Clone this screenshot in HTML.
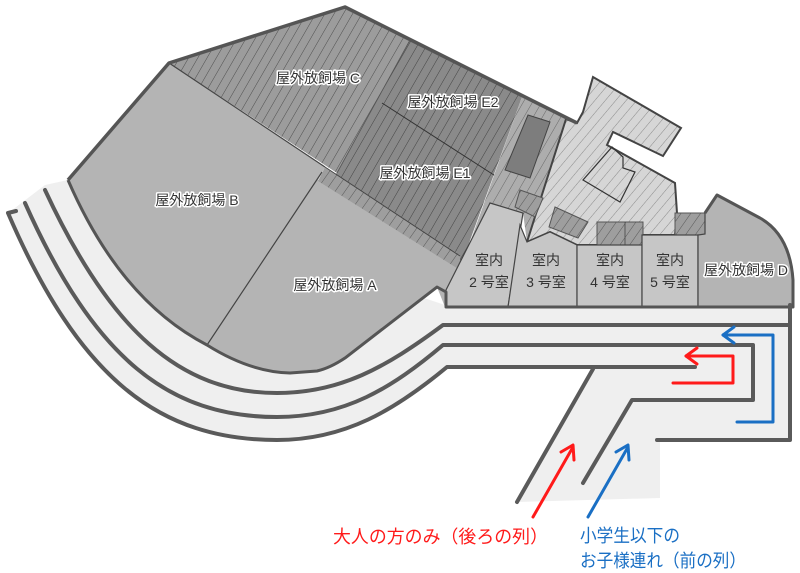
<!DOCTYPE html>
<html><head><meta charset="utf-8"><style>
html,body{margin:0;padding:0;background:#fff;}
svg{display:block;}
.lbl{font-family:"Liberation Sans","Noto Sans CJK JP",sans-serif;font-size:14px;fill:#333;stroke:#fff;stroke-width:3px;paint-order:stroke;stroke-linejoin:round;text-anchor:middle;}
.rm{font-family:"Liberation Sans","Noto Sans CJK JP",sans-serif;font-size:14px;fill:#333;text-anchor:middle;}
</style></head><body>
<svg width="800" height="573" viewBox="0 0 800 573" xmlns="http://www.w3.org/2000/svg">
<defs>
<pattern id="hC" width="8" height="8" patternUnits="userSpaceOnUse" patternTransform="rotate(30)">
<rect width="8" height="8" fill="#9c9c9c"/><line x1="0" y1="0" x2="0" y2="8" stroke="#444" stroke-width="0.9"/></pattern>
<pattern id="hE" width="8" height="8" patternUnits="userSpaceOnUse" patternTransform="rotate(30)">
<rect width="8" height="8" fill="#8a8a8a"/><line x1="0" y1="0" x2="0" y2="8" stroke="#3a3a3a" stroke-width="0.9"/></pattern>
<pattern id="hM" width="8" height="8" patternUnits="userSpaceOnUse" patternTransform="rotate(30)">
<rect width="8" height="8" fill="#adadad"/><line x1="0" y1="0" x2="0" y2="8" stroke="#555" stroke-width="0.8"/></pattern>
<pattern id="hL" width="8" height="8" patternUnits="userSpaceOnUse" patternTransform="rotate(40)">
<rect width="8" height="8" fill="#d6d6d6"/><line x1="0" y1="0" x2="0" y2="8" stroke="#777" stroke-width="0.8"/></pattern>
<pattern id="hB" width="8" height="8" patternUnits="userSpaceOnUse" patternTransform="rotate(35)">
<rect width="8" height="8" fill="#9e9e9e"/><line x1="0" y1="0" x2="0" y2="8" stroke="#444" stroke-width="0.8"/></pattern>
</defs>

<path d="M7,214 C80,380 160,440 277,440 C345,440 395,410 447,367 L593,367 L517,502 L660,498 L660,440 L790,440 L790,305 L445,305 L68,180 L45,185 Z" fill="#efefef"/>

<path d="M68,180 L169,63 L325,167 L318,180 L460,268 L445,292 L445,307 L437,287 L345,358 Q330,368 317,371 L290,373 Q250,372 207,345 Q120,300 68,180 Z" fill="#b4b4b4"/>
<line x1="322" y1="172" x2="207" y2="345" stroke="#444" stroke-width="1.2"/>

<polygon points="169,63 345,7 410,40 337,173" fill="url(#hC)"/>
<polygon points="410,40 522,97 460,268 318,180 337,173" fill="url(#hE)"/>
<polygon points="325,167 460,255 460,270 318,181" fill="url(#hB)"/>
<line x1="325" y1="167" x2="460" y2="256" stroke="#444" stroke-width="1"/>
<line x1="169" y1="63" x2="325" y2="167" stroke="#444" stroke-width="1.2"/>
<line x1="410" y1="40" x2="337" y2="173" stroke="#555" stroke-width="0.8"/>
<line x1="382" y1="103" x2="497" y2="177" stroke="#333" stroke-width="1"/>
<polygon points="522,97 566,119 527,242 523,213 490,203 462,265" fill="url(#hM)"/>
<polygon points="566,119 577,123 583,112 593,77 681,128 663,156 613,132 607,145 675,183 677,213 675,235 642,235 642,245 577,245 550,232 527,242" fill="url(#hL)" stroke="#444" stroke-width="2"/>
<polygon points="612,147 623,157 623,168 635,172 620,202 583,180" fill="none" stroke="#333" stroke-width="1.2"/>
<polygon points="528,115 550,122 530,178 505,170" fill="#7d7d7d" stroke="#444" stroke-width="1"/>
<polygon points="520,190 543,198 535,217 515,207" fill="url(#hB)" stroke="#555" stroke-width="1"/>
<polygon points="555,207 588,222 578,238 549,227" fill="url(#hB)" stroke="#555" stroke-width="1"/>
<rect x="597" y="222" width="46" height="23" fill="url(#hB)" stroke="#555" stroke-width="1"/>
<line x1="625" y1="222" x2="625" y2="245" stroke="#555"/>
<rect x="675" y="213" width="30" height="22" fill="url(#hB)" stroke="#555" stroke-width="1"/>

<g fill="#c6c6c6" stroke="#444" stroke-width="1.2">
<polygon points="490,203 523,213 508,307 446,307 446,290"/>
<polygon points="520,225 527,242 550,232 577,245 577,307 508,307"/>
<rect x="577" y="245" width="65" height="62"/>
<rect x="642" y="235" width="56" height="72"/>
</g>
<path d="M698,307 L698,235 L705,234 L705,213 L717,195 L760,218 Q790,235 793,280 L793,307 Z" fill="#b4b4b4" stroke="#444" stroke-width="1.2"/>

<path d="M68,180 L169,63 L345,7 L577,123" fill="none" stroke="#555" stroke-width="3.5" stroke-linejoin="round"/>
<path d="M705,213 L717,195 L760,218 Q790,235 793,280 L793,307 L446,307 L446,292 L437,287 L345,358 Q330,368 317,371 L290,373 Q250,372 207,345 Q120,300 68,180" fill="none" stroke="#555" stroke-width="3" stroke-linejoin="round"/>

<g fill="none" stroke="#5a5a5a" stroke-width="4" stroke-linecap="round" stroke-linejoin="round">
<path d="M45,190 C110,330 180,393 277,393 C340,393 385,368 443,325 L790,325"/>
<path d="M25,203 C95,360 170,417 277,417 C345,417 392,388 443,345 L753,345 L753,400 L632,400 L583,483"/>
<path d="M16,211 L8,213 C80,380 160,440 277,440 C345,440 395,410 447,367 L695,367"/>
<path d="M593,369 L517,502"/>
<path d="M790,305 L790,440 L657,440"/>
</g>

<g fill="none" stroke="#ff1a1a" stroke-width="3" stroke-linecap="round" stroke-linejoin="round">
<path d="M673,383 L733,383 L733,356 L686,356"/>
<path d="M697,348 L686,356 L697,364"/>
<path d="M533,517 L573,447"/>
<path d="M561,452 L573,445 L574,460"/>
</g>
<g fill="none" stroke="#1a6fc4" stroke-width="3" stroke-linecap="round" stroke-linejoin="round">
<path d="M737,422 L773,422 L773,335 L723,335"/>
<path d="M734,327 L723,335 L734,343"/>
<path d="M588,517 L628,447"/>
<path d="M616,452 L628,445 L629,460"/>
</g>

<text class="lbl" x="318" y="83">屋外放飼場 C</text>
<text class="lbl" x="453" y="107">屋外放飼場 E2</text>
<text class="lbl" x="425" y="178">屋外放飼場 E1</text>
<text class="lbl" x="197" y="205">屋外放飼場 B</text>
<text class="lbl" x="335" y="290">屋外放飼場 A</text>
<text class="lbl" x="746" y="275">屋外放飼場 D</text>
<text class="rm" x="489" y="265">室内</text><text class="rm" x="489" y="287">2 号室</text>
<text class="rm" x="546" y="265">室内</text><text class="rm" x="546" y="287">3 号室</text>
<text class="rm" x="610" y="265">室内</text><text class="rm" x="610" y="287">4 号室</text>
<text class="rm" x="670" y="265">室内</text><text class="rm" x="670" y="287">5 号室</text>

<text x="333" y="543" font-family="'Liberation Sans','Noto Sans CJK JP',sans-serif" font-size="18" fill="#ff1a1a" textLength="215" lengthAdjust="spacingAndGlyphs">大人の方のみ（後ろの列）</text>
<text x="580" y="542" font-family="'Liberation Sans','Noto Sans CJK JP',sans-serif" font-size="18" fill="#1a6fc4" textLength="100" lengthAdjust="spacingAndGlyphs">小学生以下の</text>
<text x="580" y="567" font-family="'Liberation Sans','Noto Sans CJK JP',sans-serif" font-size="18" fill="#1a6fc4" textLength="166" lengthAdjust="spacingAndGlyphs">お子様連れ（前の列）</text>
</svg>
</body></html>
